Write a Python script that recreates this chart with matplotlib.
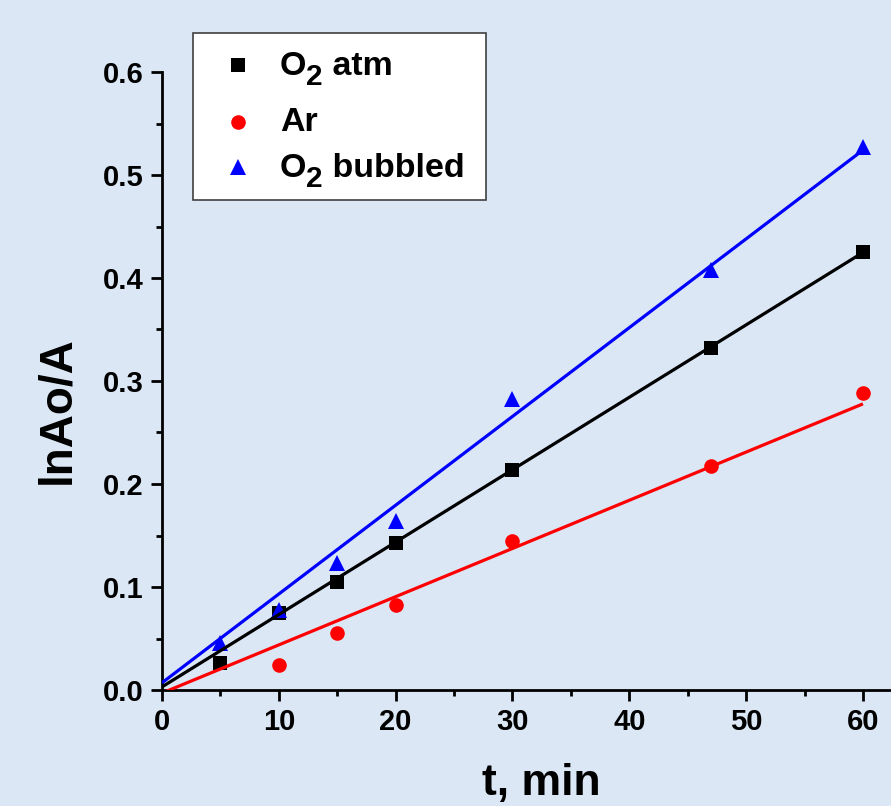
import matplotlib
matplotlib.use("Agg")
import matplotlib.pyplot as plt
import numpy as np
from matplotlib.ticker import MultipleLocator
from matplotlib.patches import Rectangle
from matplotlib.lines import Line2D

plt.rcParams['font.family'] = ['Liberation Sans', 'DejaVu Sans']
plt.rcParams['font.weight'] = 'bold'

# ---- data ----
t_atm = [5, 10, 15, 20, 30, 47, 60]
y_atm = [0.026, 0.075, 0.105, 0.143, 0.214, 0.332, 0.425]

t_ar = [10, 15, 20, 30, 47, 60]
y_ar = [0.024, 0.055, 0.083, 0.145, 0.217, 0.288]

t_bub = [5, 10, 15, 20, 30, 47, 60]
y_bub = [0.046, 0.078, 0.123, 0.164, 0.283, 0.408, 0.527]

# linear fit lines (intercept, slope)
fit_atm = (0.003, 0.00703)
fit_ar = (-0.003, 0.00468)
fit_bub = (0.007, 0.00862)
fit_range = [0, 60]

# legend labels: (main, subscript, rest)
labels = [("O", "2", " atm"), ("Ar", "", ""), ("O", "2", " bubbled")]
xticks = [0, 10, 20, 30, 40, 50, 60]
yticks = [0.0, 0.1, 0.2, 0.3, 0.4, 0.5, 0.6]

W, H = 891, 806
bg = '#dbe7f5'
fig = plt.figure(figsize=(W / 100, H / 100), dpi=100, facecolor=bg)
ax = fig.add_axes([162 / W, 1 - 690 / H, 1 - 162 / W, (690 - 72) / H])
ax.set_facecolor('none')

series = [
    (t_atm, y_atm, fit_atm, 's', 'black', 9.5),
    (t_ar, y_ar, fit_ar, 'o', '#ff0000', 10.5),
    (t_bub, y_bub, fit_bub, '^', '#0000ff', 12),
]
for (tx, ty, fit, mk, col, ms) in series:
    ax.plot(tx, ty, linestyle='none', marker=mk, color=col,
            markersize=ms, markeredgewidth=0, zorder=3)
    xf = np.array(fit_range, dtype=float)
    ax.plot(xf, fit[0] + fit[1] * xf, color=col, linewidth=2.3, zorder=4,
            solid_capstyle='butt')

ax.set_xlim(0, 62.4)
ax.set_ylim(0, 0.6)
ax.set_xticks(xticks)
ax.set_yticks(yticks)
ax.set_xticklabels([str(v) for v in xticks])
ax.set_yticklabels([f"{v:.1f}" for v in yticks])
ax.xaxis.set_minor_locator(MultipleLocator(5))
ax.yaxis.set_minor_locator(MultipleLocator(0.05))

for s in ['top', 'right']:
    ax.spines[s].set_visible(False)
for s in ['left', 'bottom']:
    ax.spines[s].set_linewidth(2.0)
    ax.spines[s].set_color('black')

ax.tick_params(which='major', direction='out', length=8, width=2.0,
               labelsize=21)
ax.tick_params(which='minor', direction='out', length=4.5, width=2.0)
ax.tick_params(axis='y', which='major', pad=5)
ax.tick_params(axis='x', which='major', pad=5)
for lab in ax.get_xticklabels() + ax.get_yticklabels():
    lab.set_fontweight('bold')

ax.set_xlabel("t, min", fontsize=32, fontweight='bold')
ax.set_ylabel("lnAo/A", fontsize=33, fontweight='bold')
ax.xaxis.set_label_coords((541 - 162) / 729, (690 - 795) / 618)
ax.xaxis.label.set_va('baseline')
ax.yaxis.set_label_coords((57 - 162) / 729, (690 - 410) / 618)
ax.yaxis.label.set_va('center')

# ---- manual legend (pixel layout, origin top-left) ----
def fx(x):
    return x / W

def fy(y):
    return 1 - y / H

box = Rectangle((fx(193), fy(200)), (486 - 193) / W, (200 - 33) / H,
                transform=fig.transFigure, facecolor='white',
                edgecolor='#404040', linewidth=1.2, zorder=10)
fig.patches.append(box)

rows_marker_y = [65, 122, 167]
rows_base_y = [75, 131, 177]
leg_font = 24.5
renderer = fig.canvas.get_renderer()
for (tx, ty, fit, mk, col, ms), (main, sub, rest), my, by in zip(
        series, labels, rows_marker_y, rows_base_y):
    fig.add_artist(Line2D([fx(238)], [fy(my)], transform=fig.transFigure,
                          marker=mk, color=col, markersize=ms,
                          markeredgewidth=0, linestyle='none', zorder=11))
    t1 = fig.text(fx(280), fy(by), main, fontsize=leg_font, fontweight='bold',
                  va='baseline', ha='left', zorder=11)
    if sub:
        bb = t1.get_window_extent(renderer)
        t2 = fig.text(bb.x1 / W, fy(by + 10), sub, fontsize=leg_font * 0.88,
                      fontweight='bold', va='baseline', ha='left', zorder=11)
        bb2 = t2.get_window_extent(renderer)
        fig.text(bb2.x1 / W, fy(by), rest, fontsize=leg_font,
                 fontweight='bold', va='baseline', ha='left', zorder=11)

fig.savefig("out.png", dpi=100, facecolor=bg)
